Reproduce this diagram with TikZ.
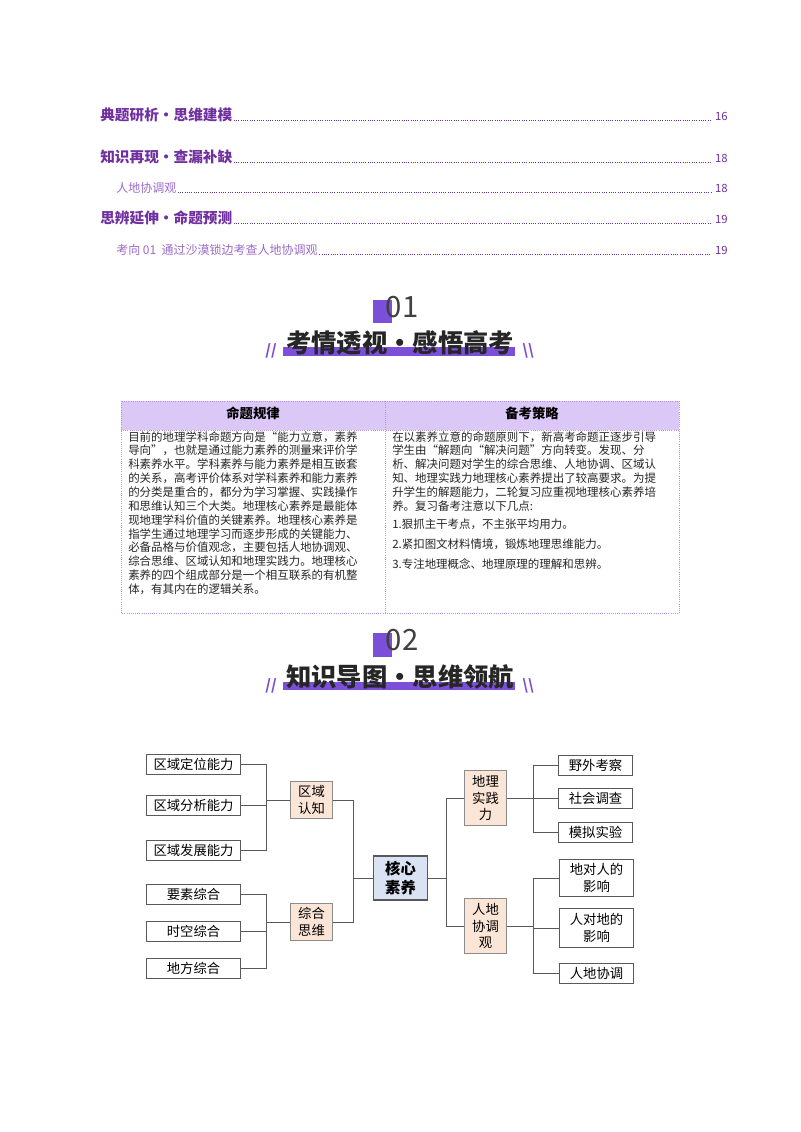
\documentclass[tikz,border=0pt]{standalone}
\usepackage{fontspec}
\setmainfont{Noto Sans CJK SC}
\usetikzlibrary{positioning}
\definecolor{hpurple}{HTML}{7030A0}
\definecolor{spurple}{HTML}{9B6BC8}
\definecolor{bar}{HTML}{7B4FD8}
\definecolor{thead}{HTML}{DCC8F7}
\definecolor{tline}{HTML}{B590E6}
\definecolor{peach}{HTML}{FBE5D6}
\definecolor{core}{HTML}{DAE3F3}
\definecolor{edge}{HTML}{595959}
\tikzset{
 tochead/.style={anchor=base west,inner sep=0pt,font=\fontsize{11}{12}\selectfont\bfseries,text=hpurple},
 tocsub/.style={anchor=base west,inner sep=0pt,font=\fontsize{9}{10}\selectfont,text=spurple},
 tocnum/.style={anchor=base east,inner sep=0pt,font=\fontsize{8.5}{10}\selectfont,text=hpurple},
 leader/.style={hpurple,line width=0.4pt,dash pattern=on 0.5pt off 1.2pt},
 bigtitle/.style={font=\fontsize{19}{22}\selectfont\bfseries,text=black!85,inner sep=0pt},
 numtxt/.style={font=\fontsize{22}{24}\selectfont,text=black!75,inner sep=0pt},
 cell/.style={anchor=north west,inner sep=0pt,align=left,font=\fontsize{8.6}{10.4}\selectfont,text=black!85},
 leaf/.style={draw=edge,fill=white,line width=0.7pt,minimum height=15pt,inner sep=1pt,font=\fontsize{10}{12}\selectfont},
 mid/.style={draw=edge!70,fill=peach,line width=0.7pt,inner sep=1pt,align=center,font=\fontsize{10}{12.5}\selectfont},
 conn/.style={draw=edge,line width=0.7pt},
}
\begin{document}
\begin{tikzpicture}[x=0.75pt,y=-0.75pt]
\useasboundingbox[fill=white] (0,0) rectangle (800,1132);
% TOC
\node[tochead] (t1) at (100,120) {典题研析·思维建模};
\node[tocnum] (p1) at (728,120) {16};
\node[tochead] (t2) at (100,162) {知识再现·查漏补缺};
\node[tocnum] (p2) at (728,162) {18};
\node[tocsub] (t3) at (116,192) {人地协调观};
\node[tocnum] (p3) at (728,192) {18};
\node[tochead] (t4) at (100,223) {思辨延伸·命题预测};
\node[tocnum] (p4) at (728,223) {19};
\node[tocsub] (t5) at (116,254) {考向 01\ \ 通过沙漠锁边考查人地协调观};
\node[tocnum] (p5) at (728,254) {19};
\foreach \i in {1,...,5}{\draw[leader] ([xshift=1pt]t\i.base east) -- ([xshift=-3pt]p\i.base west);}
% Banner 1
\fill[bar] (373,300) rectangle (392,323);
\node[numtxt] (n1) at (402,307) {01};
\fill[bar] (283,347) rectangle (515,356);
\node[bigtitle] (b1) at (400,343) {考情透视·感悟高考};
\node[font=\fontsize{11}{12}\selectfont\itshape\bfseries,text=bar] (s1a) at (271,351) {//};
\node[font=\fontsize{11}{12}\selectfont\itshape\bfseries,text=bar] (s1b) at (528,351) {\textbackslash\textbackslash};
% Table
\fill[thead] (121,401) rectangle (679,430);
\draw[tline,line width=0.6pt,densely dotted] (121,401) rectangle (679,613);
\draw[tline,line width=0.6pt,densely dotted] (121,430) -- (679,430);
\draw[tline,line width=0.6pt,densely dotted] (385,401) -- (385,613);
\node[font=\fontsize{10}{12}\selectfont\bfseries] (h1) at (253,413) {命题规律};
\node[font=\fontsize{10}{12}\selectfont\bfseries] (h2) at (532,413) {备考策略};
\node[cell] (c1) at (128,431) {目前的地理学科命题方向是“能力立意，素养\\
导向”，也就是通过能力素养的测量来评价学\\
科素养水平。学科素养与能力素养是相互嵌套\\
的关系，高考评价体系对学科素养和能力素养\\
的分类是重合的，都分为学习掌握、实践操作\\
和思维认知三个大类。地理核心素养是最能体\\
现地理学科价值的关键素养。地理核心素养是\\
指学生通过地理学习而逐步形成的关键能力、\\
必备品格与价值观念，主要包括人地协调观、\\
综合思维、区域认知和地理实践力。地理核心\\
素养的四个组成部分是一个相互联系的有机整\\
体，有其内在的逻辑关系。};
\node[cell] (c2) at (392,431) {在以素养立意的命题原则下，新高考命题正逐步引导\\
学生由“解题向“解决问题”方向转变。发现、分\\
析、解决问题对学生的综合思维、人地协调、区域认\\
知、地理实践力地理核心素养提出了较高要求。为提\\
升学生的解题能力，二轮复习应重视地理核心素养培\\
养。复习备考注意以下几点:};
\node[cell] (c3) at (392,519) {1.狠抓主干考点，不主张平均用力。};
\node[cell] (c4) at (392,539) {2.紧扣图文材料情境，锻炼地理思维能力。};
\node[cell] (c5) at (392,558) {3.专注地理概念、地理原理的理解和思辨。};
% Banner 2
\fill[bar] (373,633) rectangle (392,657);
\node[numtxt] (n2) at (402,640) {02};
\fill[bar] (283,682) rectangle (515,690);
\node[bigtitle] (b2) at (400,677) {知识导图·思维领航};
\node[font=\fontsize{11}{12}\selectfont\itshape\bfseries,text=bar] (s2a) at (271,686) {//};
\node[font=\fontsize{11}{12}\selectfont\itshape\bfseries,text=bar] (s2b) at (528,686) {\textbackslash\textbackslash};
% Mind map
\node[draw=edge,fill=core,line width=0.8pt,minimum width=41pt,minimum height=33pt,align=center,font=\fontsize{11.5}{14}\selectfont\bfseries] (core) at (400.5,878) {核心\\素养};
\node[mid,minimum width=31pt,minimum height=28pt] (m1) at (311.5,800) {区域\\认知};
\node[mid,minimum width=31pt,minimum height=28pt] (m2) at (311.5,922) {综合\\思维};
\node[mid,minimum width=31pt,minimum height=41pt] (m3) at (485.5,798) {地理\\实践\\力};
\node[mid,minimum width=31pt,minimum height=41pt] (m4) at (485.5,926) {人地\\协调\\观};
\node[leaf,minimum width=70pt] (l1) at (193.5,764) {区域定位能力};
\node[leaf,minimum width=70pt] (l2) at (193.5,805) {区域分析能力};
\node[leaf,minimum width=70pt] (l3) at (193.5,850) {区域发展能力};
\node[leaf,minimum width=70pt] (l4) at (193.5,894) {要素综合};
\node[leaf,minimum width=70pt] (l5) at (193.5,931) {时空综合};
\node[leaf,minimum width=70pt] (l6) at (193.5,968) {地方综合};
\node[leaf,minimum width=55pt] (r1) at (595.5,765) {野外考察};
\node[leaf,minimum width=55pt] (r2) at (595.5,798) {社会调查};
\node[leaf,minimum width=55pt] (r3) at (595.5,832) {模拟实验};
\node[leaf,minimum width=56pt,minimum height=28pt,align=center,font=\fontsize{10}{13}\selectfont] (r4) at (596.5,878) {地对人的\\影响};
\node[leaf,minimum width=56pt,minimum height=29pt,align=center,font=\fontsize{10}{13}\selectfont] (r5) at (596.5,928) {人对地的\\影响};
\node[leaf,minimum width=56pt] (r6) at (596.5,973) {人地协调};
\coordinate (bl1) at (266,800);
\coordinate (bl2) at (266,922);
\coordinate (bc) at (353,878);
\coordinate (br) at (446,878);
\coordinate (br1) at (533,798);
\coordinate (br2) at (533,926);
\foreach \l in {l1,l2,l3}{\draw[conn] (\l.east) -| (bl1);}
\draw[conn] (bl1) -- (m1.west);
\foreach \l in {l4,l5,l6}{\draw[conn] (\l.east) -| (bl2);}
\draw[conn] (bl2) -- (m2.west);
\draw[conn] (m1.east) -| (bc);
\draw[conn] (m2.east) -| (bc);
\draw[conn] (bc) -- (core.west);
\draw[conn] (core.east) -- (br);
\draw[conn] (br) |- (m3.west);
\draw[conn] (br) |- (m4.west);
\draw[conn] (m3.east) -- (br1);
\foreach \r in {r1,r2,r3}{\draw[conn] (br1) |- (\r.west);}
\draw[conn] (m4.east) -- (br2);
\foreach \r in {r4,r5,r6}{\draw[conn] (br2) |- (\r.west);}
\end{tikzpicture}
\end{document}
